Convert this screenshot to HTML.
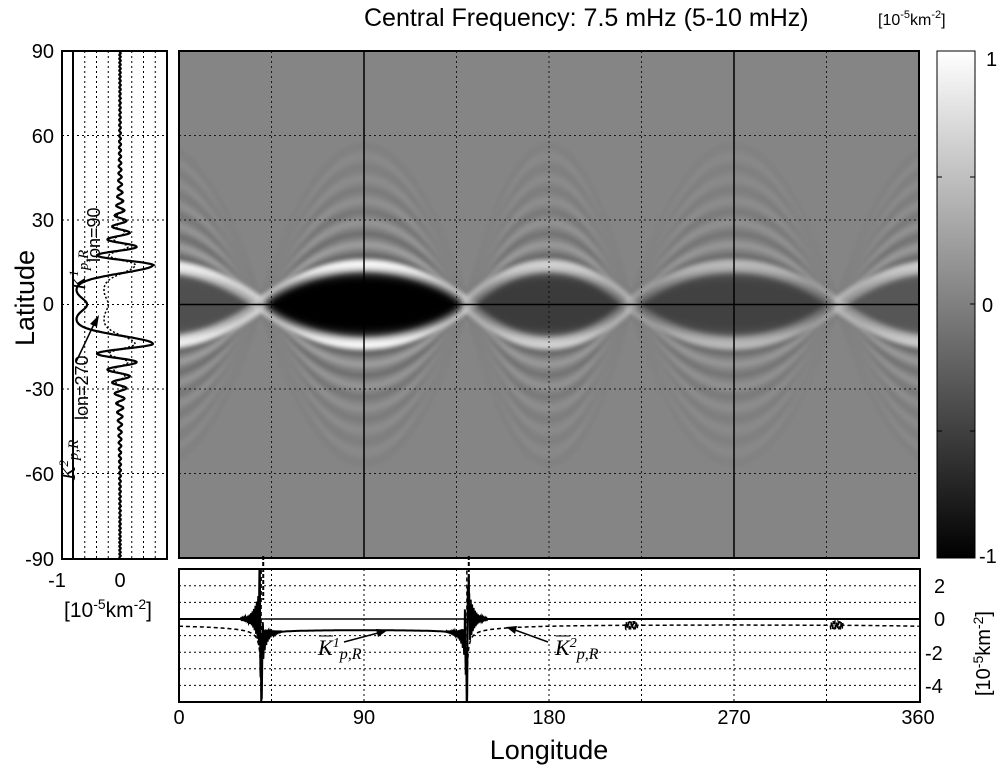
<!DOCTYPE html>
<html><head><meta charset="utf-8"><style>
body{margin:0;background:#fff;}
svg{display:block;font-family:"Liberation Sans",sans-serif;}
</style></head><body>
<svg id="s" width="1000" height="770" viewBox="0 0 1000 770" xmlns="http://www.w3.org/2000/svg">
<defs>
<filter id="b6" x="-20%" y="-50%" width="140%" height="200%"><feGaussianBlur stdDeviation="5"/></filter>
<filter id="b3" x="-20%" y="-50%" width="140%" height="200%"><feGaussianBlur stdDeviation="2.5"/></filter>
<linearGradient id="cb" x1="0" y1="0" x2="0" y2="1"><stop offset="0" stop-color="#fff"/><stop offset="1" stop-color="#000"/></linearGradient>
<clipPath id="mc"><rect x="179" y="51" width="740" height="507"/></clipPath>
<clipPath id="lc"><rect x="62" y="51" width="105" height="508"/></clipPath>
<clipPath id="bc"><rect x="179" y="569" width="741" height="133"/></clipPath>
</defs>
<text x="364" y="26" font-size="25">Central Frequency: 7.5 mHz (5-10 mHz)</text>
<text x="878" y="25" font-size="16">[10<tspan dy="-7" font-size="11">-5</tspan><tspan dy="7">km</tspan><tspan dy="-7" font-size="11">-2</tspan><tspan dy="7">]</tspan></text>
<rect x="179" y="51" width="740" height="507" fill="#858585"/>
<g clip-path="url(#mc)" id="heat"></g>
<g id="grid"></g>
<rect x="179" y="51" width="740" height="507" fill="none" stroke="#000" stroke-width="2"/>
<rect x="62" y="51" width="105" height="508" fill="#fff" stroke="#000" stroke-width="2"/>
<g id="left"></g>
<rect x="937" y="51" width="38" height="507" fill="url(#cb)" stroke="#000" stroke-width="1"/>
<g stroke="#000" stroke-width="1"><line x1="970" y1="177" x2="975" y2="177"/><line x1="970" y1="304" x2="975" y2="304"/><line x1="970" y1="431" x2="975" y2="431"/><line x1="937" y1="177" x2="942" y2="177"/><line x1="937" y1="431" x2="942" y2="431"/></g>
<g font-size="20"><text x="986" y="66">1</text><text x="982" y="312">0</text><text x="979" y="563">-1</text></g>
<rect x="179" y="569" width="741" height="133" fill="#fff"/>
<g id="bot"></g>
<rect x="179" y="569" width="741" height="133" fill="none" stroke="#000" stroke-width="2"/>
<g font-size="20" text-anchor="end">
<text x="54" y="58">90</text><text x="54" y="143">60</text><text x="54" y="227">30</text><text x="54" y="311">0</text><text x="54" y="396">-30</text><text x="54" y="481">-60</text><text x="54" y="566">-90</text>
</g>
<g font-size="20" text-anchor="middle">
<text x="57" y="587">-1</text><text x="120" y="587">0</text>
<text x="179" y="724">0</text><text x="364" y="724">90</text><text x="549" y="724">180</text><text x="734" y="724">270</text><text x="918" y="724">360</text>
</g>
<text x="108" y="617" font-size="21" text-anchor="middle">[10<tspan dy="-8" font-size="14">-5</tspan><tspan dy="8">km</tspan><tspan dy="-8" font-size="14">-2</tspan><tspan dy="8">]</tspan></text>
<g font-size="20"><text x="934" y="593">2</text><text x="934" y="626">0</text><text x="925" y="660">-2</text><text x="925" y="693">-4</text></g>
<text transform="translate(990,696) rotate(-90)" font-size="20">[10<tspan dy="-7" font-size="14">-5</tspan><tspan dy="7">km</tspan><tspan dy="-7" font-size="14">-2</tspan><tspan dy="7">]</tspan></text>
<text transform="translate(34,298) rotate(-90)" font-size="27" text-anchor="middle">Latitude</text>
<text x="549" y="759" font-size="27" text-anchor="middle">Longitude</text>
</svg>
<script>
const NS="http://www.w3.org/2000/svg";
function el(p,t,a){const e=document.createElementNS(NS,t);for(const k in a)e.setAttribute(k,a[k]);p.appendChild(e);return e;}
const heat=document.getElementById('heat'),grid=document.getElementById('grid'),left=document.getElementById('left'),bot=document.getElementById('bot');
const X=l=>179+l*740/360, Y=t=>304.5-t*507/180, y0=304.5;
const segs=[[55,261,'#000',0.4,'#fff',0.9],[261,467,'#000',1,'#fff',1],[467,630,'#000',0.55,'#fff',0.65],[630,837,'#000',0.5,'#fff',0.45],[837,1043,'#000',0.35,'#fff',0.6]];
segs.forEach(s=>{const[x1,x2,dc,dop,ac,aop]=s,xm=(x1+x2)/2;
 for(let k=1;k<12;k++){const h=38+k*11;const op=0.35*Math.exp(-k/5)*(0.5+aop/2);
  el(heat,'path',{d:`M${x1},${y0} Q${xm},${y0-2*h} ${x2},${y0} Q${xm},${y0+2*h} ${x1},${y0}`,fill:'none',stroke:k%2?'#000':'#fff','stroke-width':5,opacity:op,filter:'url(#b3)'});}
 el(heat,'path',{d:`M${x1},${y0} Q${xm},${y0-76} ${x2},${y0} Q${xm},${y0+76} ${x1},${y0}`,fill:'none',stroke:ac,'stroke-width':13,opacity:aop,filter:'url(#b3)'});
 el(heat,'path',{d:`M${x1},${y0} C${x1+(x2-x1)*0.2},${y0-42} ${x2-(x2-x1)*0.2},${y0-42} ${x2},${y0} C${x2-(x2-x1)*0.2},${y0+42} ${x1+(x2-x1)*0.2},${y0+42} ${x1},${y0}Z`,fill:dc,opacity:dop,filter:'url(#b6)'});
});
for(let l=45;l<360;l+=45){if(l==90||l==270)continue;el(grid,'line',{x1:X(l),y1:51,x2:X(l),y2:558,stroke:'#000','stroke-width':1,'stroke-dasharray':'2,3',opacity:.8});}
for(const t of [60,30,-30,-60]){el(grid,'line',{x1:179,y1:Y(t),x2:919,y2:Y(t),stroke:'#000','stroke-width':1,'stroke-dasharray':'2,3',opacity:.8});}
for(const l of [90,270])el(grid,'line',{x1:X(l),y1:51,x2:X(l),y2:558,stroke:'#000','stroke-width':1.5});
el(grid,'line',{x1:179,y1:y0,x2:919,y2:y0,stroke:'#000','stroke-width':1.5});
const LX=v=>120+v*47;
for(const v of [-0.75,-0.5,-0.25,0.25,0.5,0.75])el(left,'line',{x1:LX(v),y1:51,x2:LX(v),y2:559,stroke:'#000','stroke-dasharray':'2,3','stroke-width':1});
for(const t of [60,30,0,-30,-60])el(left,'line',{x1:62,y1:Y(t),x2:167,y2:Y(t),stroke:'#000','stroke-dasharray':'2,3','stroke-width':1});
el(left,'line',{x1:73,y1:51,x2:73,y2:559,stroke:'#000','stroke-width':2});
function K(lat,A,eq,bump){const a=Math.abs(lat);
 if(a<14){return eq+(A-eq)*Math.exp(-Math.pow((a-14)/4,2))+bump*Math.exp(-Math.pow(a/3,2));}
 const ph=2*Math.PI*(a-14)/8*(1+(a-14)/30);const E=A*Math.exp(-(a-14)/9)+0.015;
 return E*Math.cos(ph);}
let d1='',d2='';for(let t=-90;t<=90;t+=0.2){d1+=(d1?'L':'M')+LX(K(t,0.7,-0.95,0.25)).toFixed(1)+','+Y(t).toFixed(1);d2+=(d2?'L':'M')+LX(K(t,0.32,-0.35,0.1)).toFixed(1)+','+Y(t).toFixed(1);}
const lg=el(left,'g',{'clip-path':'url(#lc)'});
el(lg,'path',{d:d2,fill:'none',stroke:'#000','stroke-width':1.5,'stroke-dasharray':'2,2'});
el(lg,'path',{d:d1,fill:'none',stroke:'#000','stroke-width':2.2});
el(left,'line',{x1:76,y1:362,x2:95,y2:322,stroke:'#000','stroke-width':1.5});
el(left,'path',{d:'M99,315 L90,324 L97,327Z',fill:'#000'});
function rt(x,y,s,fs,it){const e=el(left,'text',{transform:`translate(${x},${y}) rotate(-90)`,'font-size':fs,'font-style':it?'italic':'normal','font-family':it?'Liberation Serif':'Liberation Sans'});e.innerHTML=s;}
rt(100,262,'lon=90',18);rt(85,290,'K<tspan font-size="13" dy="-7">1</tspan><tspan font-size="15" dy="10">p,R</tspan>',20,1);
rt(88,420,'lon=270',18);rt(75,480,'K<tspan font-size="13" dy="-7">2</tspan><tspan font-size="15" dy="10">p,R</tspan>',20,1);
const BY=v=>619-v*16.6;
for(const v of [2,1,-1,-2,-3,-4])el(bot,'line',{x1:179,y1:BY(v),x2:920,y2:BY(v),stroke:'#000','stroke-dasharray':'2,3','stroke-width':1});
for(let l=45;l<360;l+=45)el(bot,'line',{x1:X(l),y1:569,x2:X(l),y2:702,stroke:'#000','stroke-dasharray':'2,3','stroke-width':1});
const bg=el(bot,'g',{'clip-path':'url(#bc)'});
let s1='',s2='';
for(let l=0;l<=360;l+=0.1){let v1,v2;const d=Math.min(Math.abs(l-40),Math.abs(l-140));
 const inside=l>40&&l<140;
 const osc=(d<10?2.5*Math.exp(-d/2.5)*Math.sin(l*9):0)+(d<1?-3*Math.cos(d*3):0);
 if(inside){v1=-0.65-1.2/(d+0.3)+osc*0.5;v2=3.5+2/(d+0.05);}
 else{v1=osc;let dd=Math.min(d,Math.abs(l-400));v2=-0.35-1.5/(dd+0.3)-0.25*Math.exp(-dd/25);
  const d3=Math.min(Math.abs(l-220),Math.abs(l-320));if(d3<3)v2+=0.25*Math.sin(l*8);}
 v1=Math.max(-6,Math.min(6,v1));v2=Math.max(-6,Math.min(6,v2));
 s1+=(s1?'L':'M')+X(l).toFixed(1)+','+BY(v1).toFixed(1);s2+=(s2?'L':'M')+X(l).toFixed(1)+','+BY(v2).toFixed(1);}
el(bg,'path',{d:s2,fill:'none',stroke:'#000','stroke-width':1.5,'stroke-dasharray':'4,3'});
el(bg,'path',{d:s1,fill:'none',stroke:'#000','stroke-width':2});
el(bot,'line',{x1:179,y1:619,x2:920,y2:619,stroke:'#000','stroke-width':1.5});
for(const l of [40,140]){el(bot,'line',{x1:X(l)+2,y1:556,x2:X(l)+2,y2:600,stroke:'#000','stroke-width':2,'stroke-dasharray':'4,2'});}
el(bot,'line',{x1:344,y1:642,x2:378,y2:633,stroke:'#000','stroke-width':1.5});el(bot,'path',{d:'M388,630 L376,629 L378,637Z',fill:'#000'});
el(bot,'line',{x1:548,y1:642,x2:515,y2:630,stroke:'#000','stroke-width':1.5});el(bot,'path',{d:'M506,627 L517,626 L515,634Z',fill:'#000'});
function bt(x,y,s){const e=el(bot,'text',{x:x,y:y,'font-size':22,'font-style':'italic','font-family':'Liberation Serif'});e.innerHTML=s;}
bt(318,655,'K<tspan font-size="14" dy="-8">1</tspan><tspan font-size="16" dy="12">p,R</tspan>');
bt(555,655,'K<tspan font-size="14" dy="-8">2</tspan><tspan font-size="16" dy="12">p,R</tspan>');
el(bot,'line',{x1:319,y1:636,x2:333,y2:636,stroke:'#000'});el(bot,'line',{x1:556,y1:636,x2:570,y2:636,stroke:'#000'});
</script>
</body></html>
